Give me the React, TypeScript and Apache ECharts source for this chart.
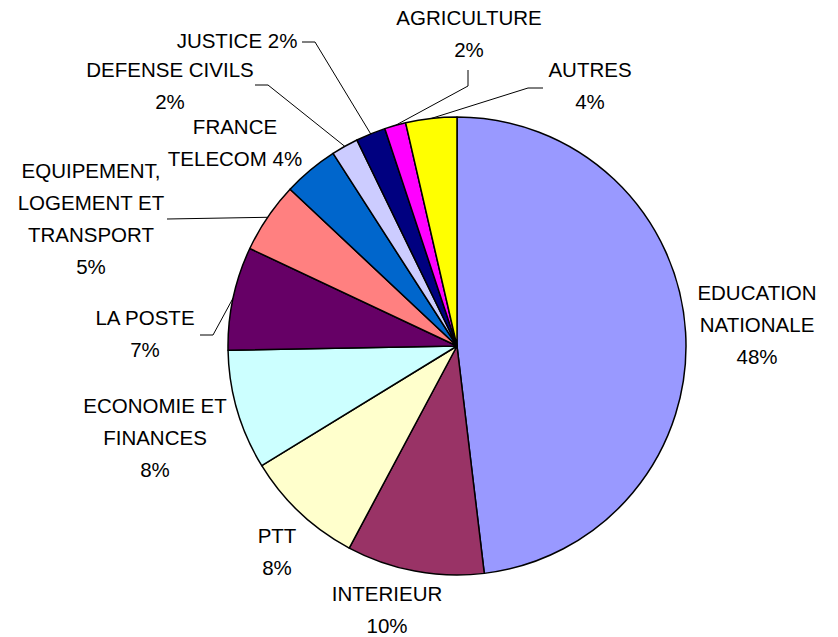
import React, { useEffect, useRef } from "react";
import * as echarts from "echarts";

const categories = [
  "EDUCATION\nNATIONALE",
  "INTERIEUR",
  "PTT",
  "ECONOMIE ET\nFINANCES",
  "LA POSTE",
  "EQUIPEMENT,\nLOGEMENT ET\nTRANSPORT",
  "FRANCE\nTELECOM",
  "DEFENSE CIVILS",
  "JUSTICE",
  "AGRICULTURE",
  "AUTRES",
];
const values = [48.1, 9.7, 8.45, 8.45, 7.3, 5.0, 3.9, 1.9, 2.1, 1.5, 3.6];
const percentSeparator = ["\n", "\n", "\n", "\n", "\n", "\n", " ", "\n", " ", "\n", "\n"];
const colors = [
  "#9999FF",
  "#993366",
  "#FFFFCC",
  "#CCFFFF",
  "#660066",
  "#FF8080",
  "#0066CC",
  "#CCCCFF",
  "#000080",
  "#FF00FF",
  "#FFFF00",
];
const hasLeader = [false, false, false, false, true, true, false, true, true, true, true];

// label block centres and leader-line bends (layout only)
const labelCenters: [number, number][] = [
  [757, 324],
  [387, 609],
  [277, 551],
  [155, 437],
  [145, 333],
  [91, 218],
  [235, 142],
  [170, 85],
  [237, 40],
  [469, 33],
  [590, 85],
];
const leaderBends: ([number, number][] | null)[] = [
  null,
  null,
  null,
  null,
  [[213, 335], [200, 335]],
  [[167, 219]],
  null,
  [[268, 85], [255, 85]],
  [[315, 42], [302, 42]],
  [[468, 86], [468, 70]],
  [[528, 88], [543, 88]],
];

export default function App() {
  const ref = useRef<HTMLDivElement>(null);
  useEffect(() => {
    if (!ref.current) return;
    const chart = echarts.init(ref.current, undefined, { renderer: "svg" });
    chart.setOption({
      animation: false,
      backgroundColor: "#ffffff",
      series: [
        {
          type: "pie",
          center: [457, 346],
          radius: 229,
          startAngle: 90,
          clockwise: true,
          avoidLabelOverlap: false,
          itemStyle: { borderColor: "#000", borderWidth: 1.5 },
          label: {
            show: true,
            position: "outside",
            fontFamily: "'Liberation Sans', Arial, sans-serif",
            fontSize: 20.5,
            lineHeight: 32,
            color: "#000",
            align: "center",
            formatter: (p: any) =>
              `${p.name}${percentSeparator[p.dataIndex]}${Math.round(p.percent)}%`,
          },
          labelLine: {
            show: true,
            length: 10,
            length2: 10,
            lineStyle: { color: "#000", width: 1 },
          },
          labelLayout: (p: any) => {
            const i = p.dataIndex;
            const c = labelCenters[i];
            const res: any = { x: c[0], y: c[1], align: "center", verticalAlign: "middle" };
            const bends = leaderBends[i];
            if (bends && p.labelLinePoints) {
              res.labelLinePoints = [p.labelLinePoints[0], ...bends];
            }
            return res;
          },
          data: values.map((v, i) => ({
            name: categories[i],
            value: v,
            itemStyle: { color: colors[i] },
            labelLine: { show: hasLeader[i] },
          })),
        },
      ],
    });
    return () => chart.dispose();
  }, []);
  return (
    <div
      ref={ref}
      style={{ position: "fixed", left: 0, top: 0, width: 838, height: 637, background: "#fff" }}
    />
  );
}
